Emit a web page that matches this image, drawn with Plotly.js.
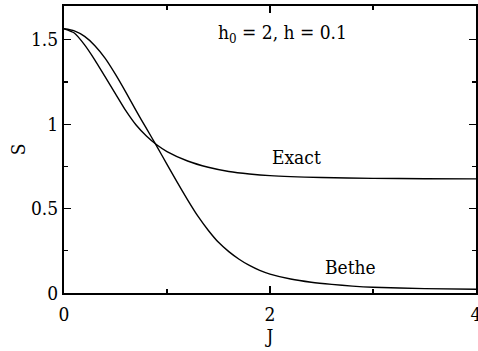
<!DOCTYPE html>
<html>
<head>
<meta charset="utf-8">
<script src="https://cdn.plot.ly/plotly-3.0.1.min.js"></script>
<style>
  html, body { margin: 0; padding: 0; background: #fff; }
  #chart { width: 478px; height: 351px; }
</style>
</head>
<body>
<div id="chart"></div>
<script>
// Entropy S versus coupling J for h0 = 2, h = 0.1
const exactJ = [0, 0.1, 0.2, 0.3, 0.4, 0.5, 0.6, 0.7, 0.8, 0.9, 1.0, 1.2, 1.4, 1.6, 1.8, 2.0, 2.5, 3.0, 3.5, 4.0];
const exactS = [1.565, 1.54, 1.47, 1.38, 1.28, 1.18, 1.08, 0.995, 0.93, 0.878, 0.838, 0.782, 0.745, 0.72, 0.705, 0.695, 0.684, 0.679, 0.677, 0.676];

const betheJ = [0, 0.1, 0.2, 0.3, 0.4, 0.5, 0.6, 0.7, 0.8, 0.9, 1.0, 1.1, 1.2, 1.3, 1.4, 1.5, 1.6, 1.7, 1.8, 1.9, 2.0, 2.2, 2.4, 2.6, 2.8, 3.0, 3.5, 4.0];
const betheS = [1.565, 1.553, 1.52, 1.465, 1.39, 1.295, 1.19, 1.08, 0.975, 0.87, 0.762, 0.655, 0.552, 0.455, 0.372, 0.30, 0.245, 0.2, 0.163, 0.134, 0.112, 0.083, 0.064, 0.051, 0.041, 0.034, 0.026, 0.022];

const xTicks = [0, 2, 4];
const yTicks = [0, 0.5, 1, 1.5];
const yTickText = ['0', '0.5', '1', '1.5'];

const serif = 'DejaVu Serif Condensed, DejaVu Serif';
const lineStyle = { color: '#000', width: 1.4, shape: 'spline', smoothing: 0.6 };

const traces = [
  { x: exactJ, y: exactS, mode: 'lines', line: lineStyle, name: 'Exact', hoverinfo: 'skip' },
  { x: betheJ, y: betheS, mode: 'lines', line: lineStyle, name: 'Bethe', hoverinfo: 'skip' }
];

const axisCommon = {
  showgrid: false,
  zeroline: false,
  showline: true,
  linecolor: '#000',
  linewidth: 2,
  mirror: 'ticks',
  ticks: 'inside',
  ticklen: 7,
  tickwidth: 1.2,
  tickcolor: '#000',
  ticklabeloverflow: 'allow',
  tickfont: { family: serif, size: 19, color: '#000' },
  minor: { ticks: 'inside', ticklen: 4, tickwidth: 1.2, tickcolor: '#000' }
};

const layout = {
  width: 478,
  height: 351,
  margin: { l: 64, r: 2, t: 6, b: 58 },
  paper_bgcolor: '#fff',
  plot_bgcolor: '#fff',
  showlegend: false,
  font: { family: serif },
  xaxis: Object.assign({}, axisCommon, {
    range: [0, 4],
    tickvals: xTicks,
    ticktext: xTicks.map(String),
    ticklabelstandoff: 3,
    minor: Object.assign({}, axisCommon.minor, { tickvals: [1, 3] }),
    title: { text: 'J', font: { family: serif, size: 19, color: '#000' }, standoff: 4 }
  }),
  yaxis: Object.assign({}, axisCommon, {
    range: [0, 1.7],
    tickvals: yTicks,
    ticktext: yTickText,
    minor: Object.assign({}, axisCommon.minor, { tickvals: [0.25, 0.75, 1.25] }),
    title: { text: 'S', font: { family: serif, size: 19, color: '#000' }, standoff: 0 }
  }),
  annotations: [
    { x: 2.12, y: 1.535, xref: 'x', yref: 'y', text: 'h<sub>0</sub> = 2, h = 0.1', showarrow: false,
      font: { family: serif, size: 19, color: '#000' } },
    { x: 2.26, y: 0.806, xref: 'x', yref: 'y', text: 'Exact', showarrow: false,
      font: { family: serif, size: 19, color: '#000' } },
    { x: 2.78, y: 0.154, xref: 'x', yref: 'y', text: 'Bethe', showarrow: false,
      font: { family: serif, size: 19, color: '#000' } }
  ]
};

Plotly.newPlot('chart', traces, layout, { staticPlot: true, displayModeBar: false });
</script>
</body>
</html>
